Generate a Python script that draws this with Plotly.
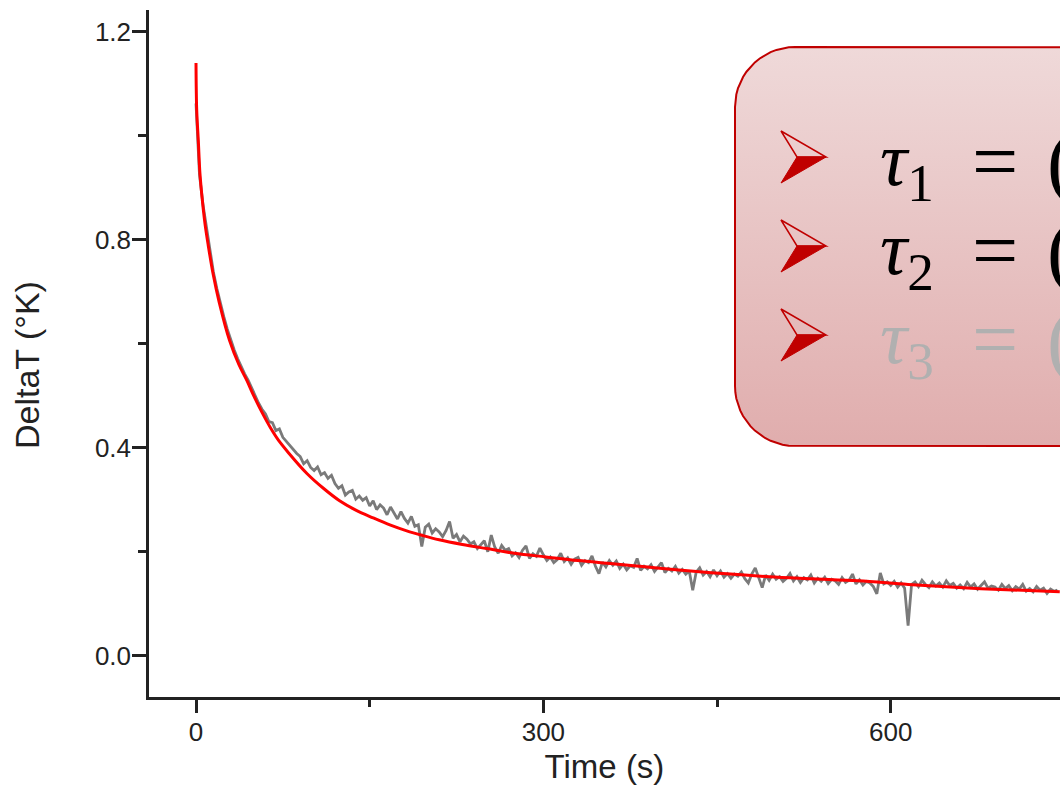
import numpy as np
import plotly.graph_objects as go

# ---------------- data ----------------
time_step = 3
measured_t = list(range(0, 745, time_step))
measured_dT = [
    1.062, 0.925, 0.868, 0.822, 0.775, 0.738, 0.706, 0.676, 0.652, 0.628,
    0.606, 0.588, 0.571, 0.556, 0.542, 0.530, 0.515, 0.500, 0.486, 0.474,
    0.465, 0.450, 0.448, 0.433, 0.436, 0.420, 0.412, 0.404, 0.395, 0.389,
    0.383, 0.369, 0.375, 0.362, 0.356, 0.363, 0.348, 0.352, 0.341, 0.347,
    0.331, 0.322, 0.327, 0.309, 0.315, 0.318, 0.301, 0.307, 0.299, 0.304,
    0.288, 0.298, 0.281, 0.290, 0.284, 0.271, 0.286, 0.274, 0.263, 0.277,
    0.264, 0.255, 0.268, 0.249, 0.252, 0.210, 0.247, 0.253, 0.236, 0.244,
    0.238, 0.229, 0.241, 0.258, 0.226, 0.233, 0.219, 0.230, 0.224, 0.215,
    0.219, 0.206, 0.213, 0.221, 0.200, 0.232, 0.209, 0.197, 0.212, 0.203,
    0.206, 0.192, 0.198, 0.189, 0.203, 0.211, 0.187, 0.196, 0.191, 0.207,
    0.194, 0.183, 0.190, 0.179, 0.185, 0.197, 0.181, 0.188, 0.176, 0.186,
    0.189, 0.174, 0.183, 0.179, 0.192, 0.172, 0.158, 0.180, 0.171, 0.183,
    0.174, 0.182, 0.168, 0.176, 0.165, 0.173, 0.170, 0.187, 0.164, 0.172,
    0.167, 0.175, 0.162, 0.170, 0.179, 0.160, 0.168, 0.163, 0.172, 0.159,
    0.166, 0.157, 0.163, 0.126, 0.161, 0.169, 0.155, 0.162, 0.152, 0.165,
    0.154, 0.163, 0.151, 0.158, 0.149, 0.157, 0.153, 0.161, 0.148, 0.140,
    0.157, 0.169, 0.148, 0.131, 0.155, 0.145, 0.157, 0.147, 0.152, 0.143,
    0.149, 0.158, 0.144, 0.152, 0.141, 0.150, 0.146, 0.155, 0.140, 0.149,
    0.143, 0.151, 0.139, 0.147, 0.144, 0.137, 0.150, 0.141, 0.145, 0.157,
    0.138, 0.146, 0.136, 0.143, 0.140, 0.133, 0.119, 0.159, 0.138, 0.142,
    0.135, 0.143, 0.132, 0.140, 0.130, 0.058, 0.137, 0.142, 0.133, 0.145,
    0.137, 0.131, 0.142, 0.134, 0.140, 0.132, 0.144, 0.135, 0.139, 0.130,
    0.136, 0.129, 0.141, 0.132, 0.138, 0.128, 0.135, 0.142, 0.130, 0.134,
    0.132, 0.126, 0.137, 0.129, 0.135, 0.125, 0.133, 0.128, 0.137, 0.124,
    0.129, 0.123, 0.133, 0.126, 0.130, 0.120, 0.128, 0.124, 0.126,
]

fit_t = [0, 0.6, 2, 3.4, 5.5, 7.8, 10.5, 14.7, 20, 29, 37, 44, 49, 57, 66, 71,
         80, 96, 110, 124, 138, 153, 168, 182, 196, 210, 230, 251, 275, 302,
         330, 360, 388, 417, 455, 495, 533, 572, 615, 659, 700, 746]
fit_dT = [1.14, 1.05, 0.99, 0.927, 0.875, 0.83, 0.79, 0.735, 0.68, 0.606, 0.56,
          0.529, 0.504, 0.468, 0.432, 0.415, 0.39, 0.35, 0.322, 0.298, 0.28,
          0.265, 0.251, 0.240, 0.231, 0.223, 0.214, 0.206, 0.197, 0.19, 0.183,
          0.177, 0.171, 0.165, 0.158, 0.152, 0.148, 0.144, 0.137, 0.131,
          0.127, 0.123]

x_ticks = [0, 300, 600]
x_tick_labels = ["0", "300", "600"]
y_ticks = [0.0, 0.4, 0.8, 1.2]
y_tick_labels = ["0.0", "0.4", "0.8", "1.2"]

tau_names = ["<i>τ</i><sub>1</sub>", "<i>τ</i><sub>2</sub>", "<i>τ</i><sub>3</sub>"]
tau_colors = ["#000000", "#000000", "#b0b0b0"]

# ---------------- layout constants (page pixels) ----------------
W, H = 1060, 799
PLOT_L, PLOT_T, PLOT_B = 149, 10, 696.7
AX_COL = "#222222"

def px_x(p):
    return p / W

def px_y(p):
    return 1 - p / H

fig = go.Figure()

fig.add_trace(go.Scatter(x=measured_t, y=measured_dT, mode="lines",
                         line=dict(color="#7a7a7a", width=2.8),
                         name="data", showlegend=False, hoverinfo="skip"))
fig.add_trace(go.Scatter(x=fit_t, y=fit_dT, mode="lines",
                         line=dict(color="#ff0000", width=3, shape="spline"),
                         name="fit", showlegend=False))

# ---- rounded info box on a pixel-space overlay subplot ----
bx0, by0, bx1, by1, rad = 735, 47, 1160, 446, 60
def arc(cx, cy, a0, a1, n=16):
    a = np.linspace(a0, a1, n)
    return cx + rad * np.cos(a), cy + rad * np.sin(a)
pts_x, pts_y = [], []
for cx, cy, a0, a1 in [(bx0 + rad, by0 + rad, np.pi, 1.5 * np.pi),
                       (bx1 - rad, by0 + rad, 1.5 * np.pi, 2 * np.pi),
                       (bx1 - rad, by1 - rad, 0, 0.5 * np.pi),
                       (bx0 + rad, by1 - rad, 0.5 * np.pi, np.pi)]:
    ax_, ay_ = arc(cx, cy, a0, a1)
    pts_x += list(ax_); pts_y += list(ay_)
pts_x.append(pts_x[0]); pts_y.append(pts_y[0])

fig.add_trace(go.Scatter(x=pts_x, y=pts_y, xaxis="x2", yaxis="y2",
                         mode="lines", fill="toself",
                         fillgradient=dict(type="vertical",
                                           colorscale=[[0, "#efd9d9"], [1, "#e0adad"]],
                                           start=by0, stop=by1),
                         line=dict(color="#c00000", width=2),
                         showlegend=False, hoverinfo="skip"))

shapes = []
line_y = [157, 246, 335]
for yc in line_y:
    shapes.append(dict(type="path", xref="x2", yref="y2",
                       path=f"M 781 {yc-26} L 826 {yc} L 797 {yc} Z",
                       line=dict(color="#c00000", width=1.5), fillcolor="rgba(0,0,0,0)"))
    shapes.append(dict(type="path", xref="x2", yref="y2",
                       path=f"M 797 {yc} L 826 {yc} L 781 {yc+26} Z",
                       line=dict(color="#c00000", width=1), fillcolor="#c00000"))

annotations = []
for name, col, yc in zip(tau_names, tau_colors, line_y):
    annotations.append(dict(xref="x2", yref="y2", x=878, y=yc + 8, text=name,
                            xanchor="left", yanchor="middle", showarrow=False,
                            font=dict(family="Liberation Serif", size=76, color=col)))
    annotations.append(dict(xref="x2", yref="y2", x=970, y=yc + 4, text="=",
                            xanchor="left", yanchor="middle", showarrow=False,
                            font=dict(family="Liberation Serif", size=82, color=col)))
    annotations.append(dict(xref="x2", yref="y2", x=1045, y=yc + 4, text="(",
                            xanchor="left", yanchor="middle", showarrow=False,
                            font=dict(family="Liberation Serif", size=82, color=col)))

# y-axis title placed as in the reference (slightly below the axis centre)
annotations.append(dict(xref="x2", yref="y2", x=27, y=365, text="DeltaT (°K)",
                        textangle=-90, showarrow=False, xanchor="center", yanchor="middle",
                        font=dict(family="Liberation Sans", size=34, color=AX_COL)))

fig.update_layout(
    width=W, height=H,
    margin=dict(l=0, r=0, t=0, b=0),
    paper_bgcolor="white", plot_bgcolor="rgba(0,0,0,0)",
    shapes=shapes, annotations=annotations,
    xaxis=dict(domain=[px_x(PLOT_L), 1], range=[-40.6, 746.2],
               tickvals=x_ticks, ticktext=x_tick_labels,
               ticks="outside", ticklen=14, tickwidth=2.5, tickcolor=AX_COL,
               ticklabelstandoff=-4,
               minor=dict(dtick=150, tick0=0, ticks="outside", ticklen=8,
                          tickwidth=2.5, tickcolor=AX_COL, showgrid=False),
               showline=True, linewidth=2.5, linecolor=AX_COL,
               showgrid=False, zeroline=False,
               tickfont=dict(family="Liberation Sans", size=26, color=AX_COL),
               title=dict(text="Time (s)", standoff=10,
                          font=dict(family="Liberation Sans", size=33, color=AX_COL))),
    yaxis=dict(domain=[px_y(PLOT_B), px_y(PLOT_T)], range=[-0.0788, 1.2417],
               tickvals=y_ticks, ticktext=y_tick_labels,
               ticks="outside", ticklen=14, tickwidth=2.5, tickcolor=AX_COL,
               ticklabelstandoff=-4,
               minor=dict(dtick=0.2, tick0=0, ticks="outside", ticklen=8,
                          tickwidth=2.5, tickcolor=AX_COL, showgrid=False),
               showline=True, linewidth=2.5, linecolor=AX_COL,
               showgrid=False, zeroline=False,
               tickfont=dict(family="Liberation Sans", size=26, color=AX_COL)),
    xaxis2=dict(domain=[0, 1], range=[0, W], visible=False, anchor="y2"),
    yaxis2=dict(domain=[0, 1], range=[H, 0], visible=False, anchor="x2"),
)

# place the figure flush with the page corner (no default body margin / scrollbars)
fig.write_html("out.html",
               config={"displayModeBar": False},
               post_script="document.body.style.margin='0';"
                           "document.documentElement.style.overflow='hidden';")
